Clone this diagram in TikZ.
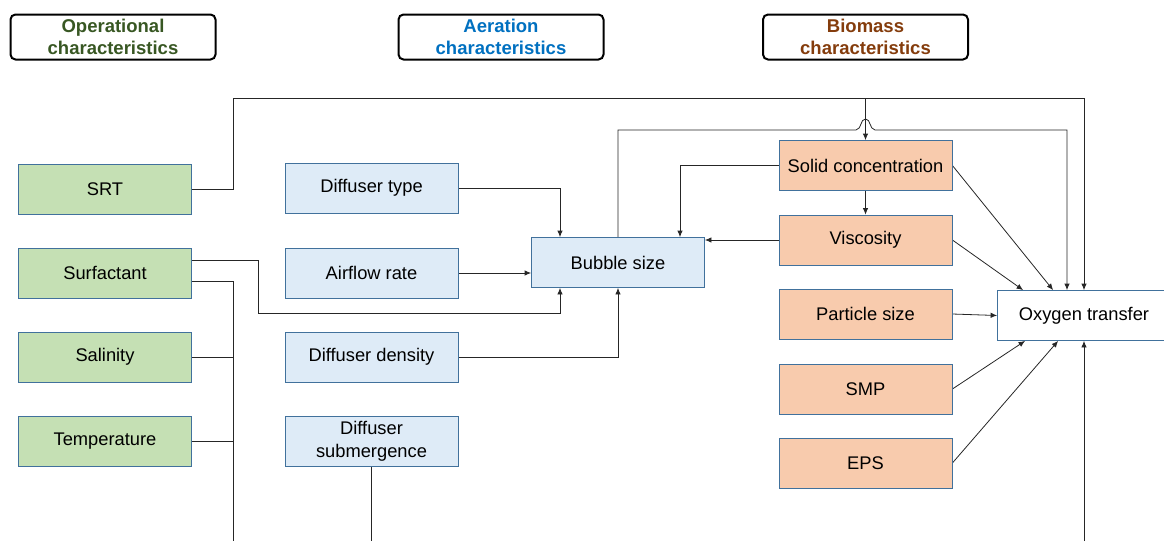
\documentclass[tikz,border=0pt]{standalone}
\usepackage{fontspec}
\setmainfont{Liberation Sans}
\usepackage{tikz}
\usetikzlibrary{shapes}
\usetikzlibrary{arrows.meta}
\pgfdeclarelayer{edgelayer}
\pgfdeclarelayer{nodelayer}
\pgfsetlayers{edgelayer,nodelayer,main}
\tikzstyle{none}=[inner sep=0pt]
\definecolor{opfill}{HTML}{C5E0B4}
\definecolor{aerfill}{HTML}{DEEBF7}
\definecolor{biofill}{HTML}{F8CBAD}
\definecolor{boxedge}{HTML}{41719C}
\definecolor{optext}{HTML}{385723}
\definecolor{aertext}{HTML}{0070C0}
\definecolor{biotext}{HTML}{843C0C}
\tikzstyle{factor}=[rectangle, draw=boxedge, line width=0.8pt, minimum width=173pt, minimum height=50pt, align=center, font=\fontsize{18.3}{23}\selectfont]
\tikzstyle{head}=[rectangle, rounded corners=5pt, draw=black, line width=2pt, minimum width=205pt, minimum height=45pt, align=center, font=\fontsize{18.5}{22}\selectfont\bfseries]
\tikzstyle{link}=[draw=black!85, line width=0.8pt]
\tikzstyle{tip}=[link, -{Latex[length=6.5pt,width=5.5pt]}]

\begin{document}
\begin{tikzpicture}[x=1pt, y=-1pt]
	\useasboundingbox (0,0) rectangle (1164,541);
	\begin{pgfonlayer}{nodelayer}
		\node [style=none, head, text=optext] (16) at (113,37) {Operational\\characteristics};
		\node [style=none, head, text=aertext] (17) at (501,37) {Aeration\\characteristics};
		\node [style=none, head, text=biotext] (18) at (865.5,37) {Biomass\\characteristics};
		\node [style=none, factor, fill=opfill] (0) at (105,189) {SRT};
		\node [style=none, factor, fill=opfill] (1) at (105,273) {Surfactant};
		\node [style=none, factor, fill=opfill] (2) at (105,357) {Salinity};
		\node [style=none, factor, fill=opfill] (3) at (105,441) {Temperature};
		\node [style=none, factor, fill=aerfill] (5) at (371.5,188) {Diffuser type};
		\node [style=none, factor, fill=aerfill] (6) at (371.5,273) {Airflow rate};
		\node [style=none, factor, fill=aerfill] (7) at (371.5,357) {Diffuser density};
		\node [style=none, factor, fill=aerfill] (8) at (371.5,441) {Diffuser\\submergence};
		\node [style=none, factor, fill=aerfill] (9) at (618,262.5) {Bubble size};
		\node [style=none, factor, fill=biofill] (10) at (865.5,165.5) {Solid concentration};
		\node [style=none, factor, fill=biofill] (11) at (865.5,240) {Viscosity};
		\node [style=none, factor, fill=biofill] (12) at (865.5,314) {Particle size};
		\node [style=none, factor, fill=biofill] (13) at (865.5,389) {SMP};
		\node [style=none, factor, fill=biofill] (4) at (865.5,463) {EPS};
		\node [style=none, factor, fill=white] (14) at (1084,315.5) {Oxygen transfer};
		\coordinate (20) at (233,98);
		\coordinate (21) at (856,130);
		\coordinate (22) at (875,130);
		\coordinate (23) at (1067,130);
		\coordinate (24) at (258,313);
		\coordinate (25) at (233,541);
		\coordinate (26) at (1084,541);
	\end{pgfonlayer}
	\begin{pgfonlayer}{edgelayer}
		\draw [tip] (0.east) -| (20) -| (14.north);
		\draw [tip] (10.north |- 20) -- (10.north);
		\draw [tip] (9.north) |- (21) .. controls (862,129) and (860,119) .. (865.5,119) .. controls (871,119) and (869,129) .. (22) -- (23) -- (23 |- 14.north);
		\draw [tip] (10.west) -| ([xshift=62pt]9.north);
		\draw [tip] (10.south) -- (11.north);
		\draw [tip] (11.west) -- (9.east |- 11.west);
		\draw [tip] (5.east) -| ([xshift=-58pt]9.north);
		\draw [tip] (6.east) -- (9.west |- 6.east);
		\draw [tip] ([yshift=13pt]1.east) -| (24) -| ([xshift=-58pt]9.south);
		\draw [link] ([yshift=-8pt]1.east) -| (25);
		\draw [link] (2.east) -- (2.east -| 25);
		\draw [link] (3.east) -- (3.east -| 25);
		\draw [tip] (7.east) -| (9.south);
		\draw [link] (8.south) -- (8.south |- 25);
		\draw [tip] (10.east) -- ([xshift=56pt]14.north west);
		\draw [tip] (11.east) -- ([xshift=26pt]14.north west);
		\draw [tip] (12.east) -- (14.west);
		\draw [tip] (13.east) -- ([xshift=28pt]14.south west);
		\draw [tip] (4.east) -- ([xshift=61pt]14.south west);
		\draw [tip] (26) -- (14.south);
	\end{pgfonlayer}
\end{tikzpicture}
\end{document}
